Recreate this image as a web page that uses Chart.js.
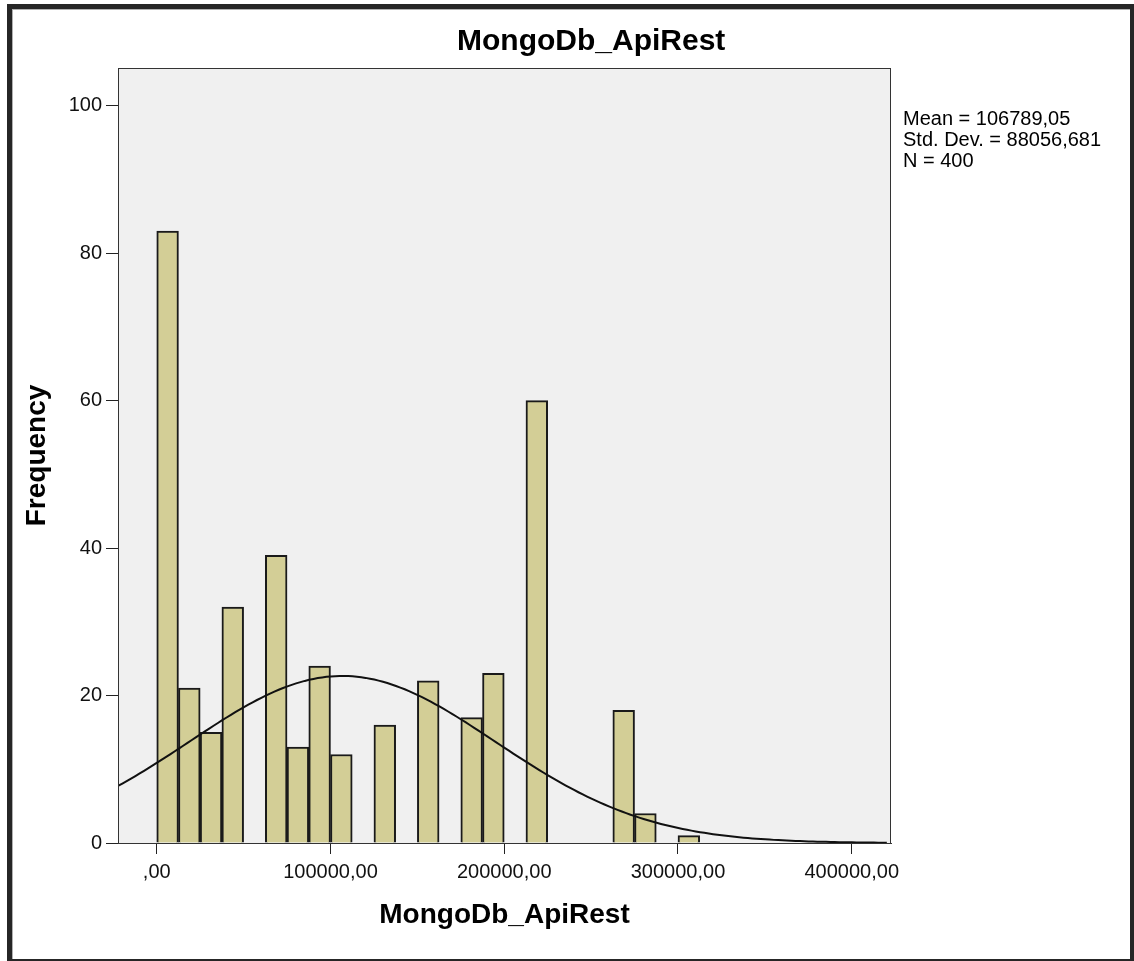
<!DOCTYPE html>
<html>
<head>
<meta charset="utf-8">
<title>MongoDb_ApiRest</title>
<script src="https://cdn.jsdelivr.net/npm/chart.js@4.4.1/dist/chart.umd.min.js"></script>
<style>
  body { margin: 0; background: #fff; overflow: hidden; }
  #wrap { position: relative; width: 1134px; height: 961px; }
  #myHistogram { position: absolute; left: 0; top: 0; }
  /* dark frame round the whole output window */
  #frame {
    position: absolute; left: 7px; top: 4px; width: 1128px; height: 960px;
    box-sizing: border-box; border: 5px solid #262626;
    box-shadow: inset 1px 1px 0 #b0b0b0; pointer-events: none;
  }
</style>
</head>
<body>
<div id="wrap">
  <canvas id="myHistogram" width="1134" height="961"></canvas>
  <div id="frame"></div>
</div>
<script>
// bins (lower edge) and counts, empty bins left out
var binWidth = 12500;
var binStarts = [0, 12500, 25000, 37500, 62500, 75000, 87500, 100000, 125000, 150000, 175000, 187500, 212500, 262500, 275000, 300000];
var frequencies = [83, 21, 15, 32, 39, 13, 24, 12, 16, 22, 17, 23, 60, 18, 4, 1];
var xTicks = [0, 100000, 200000, 300000, 400000];
var yTicks = [0, 20, 40, 60, 80, 100];

// stats printed next to the chart
var mean = 106789.05;
var stdDev = 88056.681;
var n = 400;
var statsLines = ['Mean = 106789,05', 'Std. Dev. = 88056,681', 'N = 400'];

var xMin = -22300, xMax = 422600;
var yMin = 0, yMax = 105.1;

var barData = binStarts.map(function (s, i) {
  return { x: s + binWidth / 2, y: frequencies[i] };
});

// normal curve scaled to counts per bin
var curveData = [];
for (var x = xMin; x <= xMax; x += 2500) {
  var z = (x - mean) / stdDev;
  curveData.push({ x: x, y: n * binWidth * Math.exp(-z * z / 2) / (stdDev * Math.sqrt(2 * Math.PI)) });
}

function fmt(v) {
  // SPSS style: ,00 with comma decimals
  return v === 0 ? ',00' : v + ',00';
}

var framePlugin = {
  id: 'framePlugin',
  beforeDraw: function (chart) {
    var a = chart.chartArea, c = chart.ctx;
    c.save();
    c.fillStyle = '#f0f0f0';
    c.fillRect(a.left, a.top, a.right - a.left, a.bottom - a.top);
    c.restore();
  },
  afterDraw: function (chart) {
    var a = chart.chartArea, c = chart.ctx;
    c.save();
    c.strokeStyle = '#333';
    c.lineWidth = 1;
    c.strokeRect(a.left + 0.5, a.top + 0.5, a.right - a.left - 1, a.bottom - a.top);
    // chart title
    c.fillStyle = '#000';
    c.font = 'bold 30px "Liberation Sans", Arial, sans-serif';
    c.textAlign = 'left';
    c.textBaseline = 'middle';
    c.fillText('MongoDb_ApiRest', 457, 42);
    // stats box on the right
    c.font = '20px "Liberation Sans", Arial, sans-serif';
    for (var i = 0; i < statsLines.length; i++) {
      c.fillText(statsLines[i], 903, 119 + i * 21);
    }
    c.restore();
  }
};

document.addEventListener('DOMContentLoaded', function () {
  var ctx = document.getElementById('myHistogram').getContext('2d');
  var tickFont = { family: '"Liberation Sans", Arial, sans-serif', size: 20 };
  var titleFont = { family: '"Liberation Sans", Arial, sans-serif', size: 28, weight: 'bold' };

  new Chart(ctx, {
    type: 'bar',
    data: {
      datasets: [{
        type: 'line',
        data: curveData,
        borderColor: '#111',
        borderWidth: 2,
        pointRadius: 0,
        tension: 0,
        fill: false,
        order: 0
      }, {
        type: 'bar',
        data: barData,
        backgroundColor: '#d3ce96',
        borderColor: '#1a1a1a',
        borderWidth: 2,
        barPercentage: 1,
        categoryPercentage: 1,
        order: 1
      }]
    },
    options: {
      responsive: false,
      animation: false,
      layout: { padding: { left: 0, top: 68, right: 243, bottom: 0 } },
      plugins: {
        legend: { display: false },
        tooltip: { enabled: false }
      },
      scales: {
        x: {
          type: 'linear',
          min: xMin,
          max: xMax,
          offset: false,
          afterFit: function (s) { s.height = 118; },
          afterBuildTicks: function (s) {
            s.ticks = xTicks.map(function (v) { return { value: v }; });
          },
          grid: { offset: false, drawOnChartArea: false, drawTicks: true, tickLength: 11, color: '#222' },
          border: { color: '#333', width: 1 },
          ticks: {
            font: tickFont, color: '#111', padding: 6, maxRotation: 0,
            callback: function (v) { return fmt(v); }
          },
          title: { display: true, text: 'MongoDb_ApiRest', font: titleFont, color: '#000', padding: { top: 0, bottom: 29 } }
        },
        y: {
          min: yMin,
          max: yMax,
          afterFit: function (s) { s.width = 118; },
          afterBuildTicks: function (s) {
            s.ticks = yTicks.map(function (v) { return { value: v }; });
          },
          grid: { drawOnChartArea: false, drawTicks: true, tickLength: 12, color: '#222' },
          border: { color: '#333', width: 1 },
          ticks: { font: tickFont, color: '#111', padding: 4 },
          title: { display: true, text: 'Frequency', font: titleFont, color: '#000', padding: { top: 20, bottom: 0 } }
        }
      }
    },
    plugins: [framePlugin]
  });
});
</script>
</body>
</html>
